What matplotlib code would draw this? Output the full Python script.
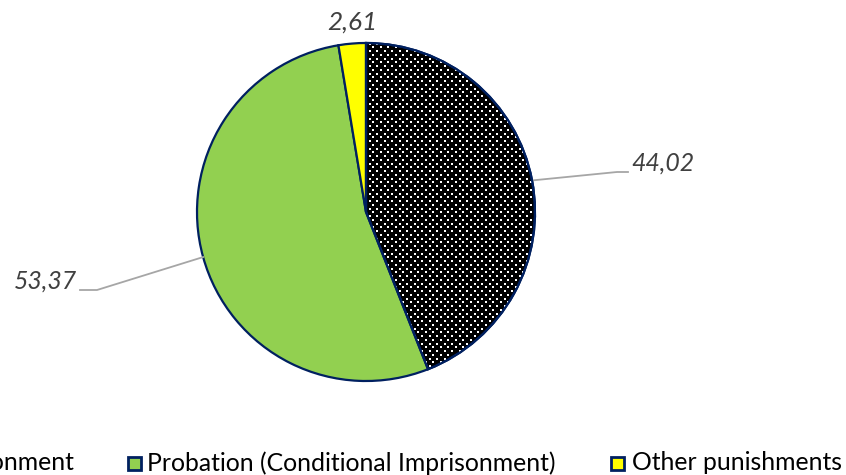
import matplotlib
matplotlib.use("Agg")
import matplotlib.pyplot as plt
import matplotlib.patches as mpatches
import numpy as np

plt.rcParams['font.family'] = ['Lato', 'DejaVu Sans']

categories = ["Imprisonment", "Probation (Conditional Imprisonment)", "Other punishments"]
shares = [44.02, 53.37, 2.61]
labels = ["44,02", "53,37", "2,61"]
colors = ["black", "#92D050", "#FFFF00"]
edge = "#002060"

W, H = 846, 475
fig = plt.figure(figsize=(W / 100, H / 100), dpi=100)
ax = fig.add_axes([0, 0, 1, 1])

cx, cy, r = 366, 263, 169

wedges, _ = ax.pie(shares, colors=colors, startangle=90, counterclock=False,
                   center=(cx, cy), radius=r, frame=True,
                   wedgeprops=dict(edgecolor=edge, linewidth=1.6))
ax.set_xlim(0, W)
ax.set_ylim(0, H)
ax.set_aspect("equal")
ax.axis("off")

# white dot pattern on the imprisonment slice (staggered rows)
w0 = wedges[0]
step, row = 7.5, 3.75
pts = []
for j, y in enumerate(np.arange(cy - r, cy + r, row)):
    xs = np.arange(cx - r + (step / 2 if j % 2 else 0), cx + r, step)
    pts += [(x, y) for x in xs]
pts = np.array(pts)
dots = ax.scatter(pts[:, 0], pts[:, 1], s=1.8, marker="s", c="white",
                  linewidths=0, zorder=3)
dots.set_clip_path(w0)
outline = mpatches.Wedge((cx, cy), r, w0.theta1, w0.theta2, facecolor="none",
                         edgecolor=edge, linewidth=1.6, zorder=4)
ax.add_patch(outline)

fig.canvas.draw()
rend = fig.canvas.get_renderer()


def fit(t, width):
    # scale a text so it spans the given pixel width
    bb = t.get_window_extent(rend)
    t.set_fontsize(t.get_fontsize() * width / bb.width)


# data labels with leader lines
lab_col = "#404040"
line_col = "#A6A6A6"
for i, w in enumerate(wedges):
    ang = np.deg2rad((w.theta1 + w.theta2) / 2)
    ex, ey = cx + r * np.cos(ang), cy + r * np.sin(ang)
    if i == 0:
        ax.plot([ex, 617, 628], [ey, 303, 303], color=line_col, lw=1.3)
        t = ax.text(631, 312, labels[i], ha="left", va="center", style="italic",
                    fontsize=19, color=lab_col)
    elif i == 1:
        ax.plot([ex, 97, 80], [ey, 185, 185], color=line_col, lw=1.3)
        t = ax.text(77, 194, labels[i], ha="right", va="center", style="italic",
                    fontsize=19, color=lab_col)
    else:
        t = ax.text(352, 453, labels[i], ha="center", va="center", style="italic",
                    fontsize=19, color=lab_col)
    fit(t, 63 if len(labels[i]) == 5 else 50)

# legend row along the bottom
ly = 12
t1 = ax.text(147, ly, categories[1], ha="left", va="center", fontsize=18, color="black")
fit(t1, 408)
fs = t1.get_fontsize()
t0 = ax.text(75, ly, categories[0], ha="right", va="center", fontsize=fs, color="black")
t2 = ax.text(632, ly, categories[2], ha="left", va="center", fontsize=fs, color="black")
bb = t0.get_window_extent(rend)
ax.add_patch(mpatches.Rectangle((bb.x0 - 20, ly - 6.5), 13, 13, facecolor="black",
                                edgecolor=edge, lw=1.6, hatch="...", clip_on=False))
for x0, col in [(128, colors[1]), (611, colors[2])]:
    ax.add_patch(mpatches.Rectangle((x0, ly - 6.5), 13, 13, facecolor=col,
                                    edgecolor=edge, lw=2))

fig.savefig("out.png", dpi=100)
